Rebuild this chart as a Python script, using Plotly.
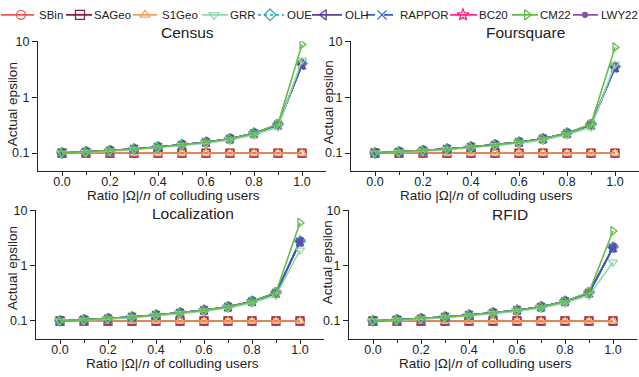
import plotly.graph_objects as go

# Ratio of colluding users
ratios = [0.0, 0.1, 0.2, 0.3, 0.4, 0.5, 0.6, 0.7, 0.8, 0.9, 1.0]

datasets = ["Census", "Foursquare", "Localization", "RFID"]

methods = ["SBin", "SAGeo", "S1Geo", "GRR", "OUE", "OLH", "RAPPOR", "BC20", "CM22", "LWY22"]
# drawing order (later traces sit on top)
draw_order = ["SBin", "SAGeo", "S1Geo", "LWY22", "BC20", "OUE", "OLH", "RAPPOR", "GRR", "CM22"]

# Geo-based mechanisms stay at the nominal budget
flat_eps = [0.1, 0.1, 0.1, 0.1, 0.1, 0.1, 0.1, 0.1, 0.1, 0.1, 0.1]

# Frequency-oracle mechanisms, ratio 0.0 .. 0.9
fo_head = [0.1, 0.105, 0.11, 0.118, 0.128, 0.14, 0.156, 0.18, 0.225, 0.32]
grr_head = [0.1, 0.103, 0.108, 0.115, 0.124, 0.136, 0.15, 0.172, 0.212, 0.29]

# Actual epsilon at ratio 1.0
fo_tail = {"Census": 3.8, "Foursquare": 3.4, "Localization": 2.7, "RFID": 2.1}
oue_tail = {"Census": 4.0, "Foursquare": 3.5, "Localization": 2.75, "RFID": 2.15}
grr_tail = {"Census": 4.6, "Foursquare": 3.9, "Localization": 1.9, "RFID": 1.15}
cm22_tail = {"Census": 8.8, "Foursquare": 7.8, "Localization": 5.9, "RFID": 4.2}

colors = {
    "SBin": "#e8584f", "SAGeo": "#8c1c3c", "S1Geo": "#f5a25d", "GRR": "#93d6a8",
    "OUE": "#3fa7b5", "OLH": "#5b3f95", "RAPPOR": "#2f5fc4", "BC20": "#ff2a8a",
    "CM22": "#64bd45", "LWY22": "#8e4fa8",
}
symbols = {
    "SBin": "circle-open", "SAGeo": "square-open", "S1Geo": "triangle-up-open",
    "GRR": "triangle-down-open", "OUE": "diamond-open", "OLH": "triangle-left-open",
    "RAPPOR": "x-thin-open", "BC20": "star-open", "CM22": "triangle-right-open",
    "LWY22": "circle",
}
dashes = {"OUE": "dot", "RAPPOR": "dash"}


def series(method, ds):
    if method in ("SBin", "SAGeo", "S1Geo"):
        return flat_eps
    if method == "GRR":
        return grr_head + [grr_tail[ds]]
    if method == "OUE":
        return fo_head + [oue_tail[ds]]
    if method == "CM22":
        return fo_head[:-1] + [0.33, cm22_tail[ds]]
    return fo_head + [fo_tail[ds]]


W, H = 639, 377
# panel boxes in pixels: (x0, x1, y_top, y_bottom)
boxes = [(38, 326, 35, 167), (351, 639, 35, 167), (36, 324, 207, 338), (349, 637, 207, 338)]

fig = go.Figure()
font = "Liberation Sans, Arial, sans-serif"
ink = "#222"

for i, ds in enumerate(datasets):
    k = "" if i == 0 else str(i + 1)
    for m in draw_order:
        size = 5 if m == "LWY22" else 8
        fig.add_trace(go.Scatter(
            x=ratios, y=series(m, ds), mode="lines+markers", name=m,
            xaxis="x" + k, yaxis="y" + k, showlegend=False,
            line=dict(color=colors[m], width=1.6),
            marker=dict(symbol=symbols[m], size=size, color=colors[m],
                        line=dict(color=colors[m], width=1.3)),
        ))
    x0, x1, yt, yb = boxes[i]
    fig.update_layout(**{
        "xaxis" + k: dict(
            domain=[x0 / W, min(x1 / W, 1.0)], anchor="y" + k, range=[-0.1, 1.1],
            tickvals=[0.0, 0.2, 0.4, 0.6, 0.8, 1.0],
            ticktext=["0.0", "0.2", "0.4", "0.6", "0.8", "1.0"],
            ticks="outside", ticklen=4, tickcolor=ink, showline=True,
            linecolor=ink, linewidth=1, showgrid=False, zeroline=False,
            ticklabelstandoff=-5,
            minor=dict(tickvals=[0.1, 0.3, 0.5, 0.7, 0.9], ticks="outside",
                       ticklen=3, tickcolor=ink, showgrid=False),
            tickfont=dict(size=12.5, color=ink, family=font),
        ),
        "yaxis" + k: dict(
            domain=[1 - yb / H, 1 - yt / H], anchor="x" + k, type="log",
            range=[-1.32, 1.0], tickvals=[0.1, 1, 10], ticktext=["0.1", "1", "10"],
            ticks="outside", ticklen=5, tickcolor=ink, showline=True,
            linecolor=ink, linewidth=1, showgrid=False, zeroline=False,
            tickfont=dict(size=12.5, color=ink, family=font),
        ),
    })

# panel titles and axis titles
titles = [("Census", 187, 26), ("Foursquare", 525, 26), ("Localization", 193, 210), ("RFID", 510, 211)]
for t, px, py in titles:
    fig.add_annotation(text=t, x=px / W, y=1 - py / H, xref="paper", yref="paper",
                       showarrow=False, font=dict(size=15.5, color=ink, family=font),
                       xanchor="center", yanchor="middle")

xtitle = "Ratio |\u03a9|/<i>n</i> of colluding users"
for px, py in [(173, 192), (486, 192), (172, 363), (485, 363)]:
    fig.add_annotation(text=xtitle, x=px / W, y=1 - py / H, xref="paper", yref="paper",
                       showarrow=False, font=dict(size=13.5, color=ink, family=font),
                       xanchor="center", yanchor="middle")

for px, py in [(12, 99), (328, 97), (12, 266), (327, 260)]:
    fig.add_annotation(text="Actual epsilon", x=px / W, y=1 - py / H, xref="paper",
                       yref="paper", showarrow=False, textangle=-90,
                       font=dict(size=13.5, color=ink, family=font),
                       xanchor="center", yanchor="middle")

# legend row drawn on its own pixel-based axis
LEG_Y = 8
leg = [
    ("SBin", 1, 34, 21, 37), ("SAGeo", 66, 92, 80, 92), ("S1Geo", 133, 157, 145, 160),
    ("GRR", 202, 228, 214, 228), ("OUE", 258, 284, 270, 285), ("OLH", 312, 342, 324, 343),
    ("RAPPOR", 366, 398, 382, 398), ("BC20", 450, 477, 463, 477),
    ("CM22", 512, 538, 527, 538), ("LWY22", 573, 598, 585, 599),
]
for m, lx0, lx1, mx, tx in leg:
    fig.add_trace(go.Scatter(x=[lx0, lx1], y=[LEG_Y, LEG_Y], mode="lines", xaxis="x5", yaxis="y5",
                             showlegend=False, hoverinfo="skip",
                             line=dict(color=colors[m], width=1.6, dash=dashes.get(m, "solid"))))
    fig.add_trace(go.Scatter(x=[mx], y=[LEG_Y], mode="markers", xaxis="x5", yaxis="y5",
                             showlegend=False, hoverinfo="skip",
                             marker=dict(symbol=symbols[m], size=5 if m == "LWY22" else 9,
                                         color=colors[m], line=dict(color=colors[m], width=1.3))))
    fig.add_annotation(text=m, x=tx, y=LEG_Y, xref="x5", yref="y5", showarrow=False,
                       xanchor="left", yanchor="middle",
                       font=dict(size=11.5, color=ink, family=font))

fig.update_layout(
    xaxis5=dict(domain=[0, 1], range=[0, W], visible=False, anchor="y5", fixedrange=True),
    yaxis5=dict(domain=[1 - 24 / H, 1], range=[24, 0], visible=False, anchor="x5", fixedrange=True),
    width=W, height=H, margin=dict(l=0, r=0, t=0, b=0),
    plot_bgcolor="white", paper_bgcolor="white", showlegend=False,
)

fig.write_html("out.html")
